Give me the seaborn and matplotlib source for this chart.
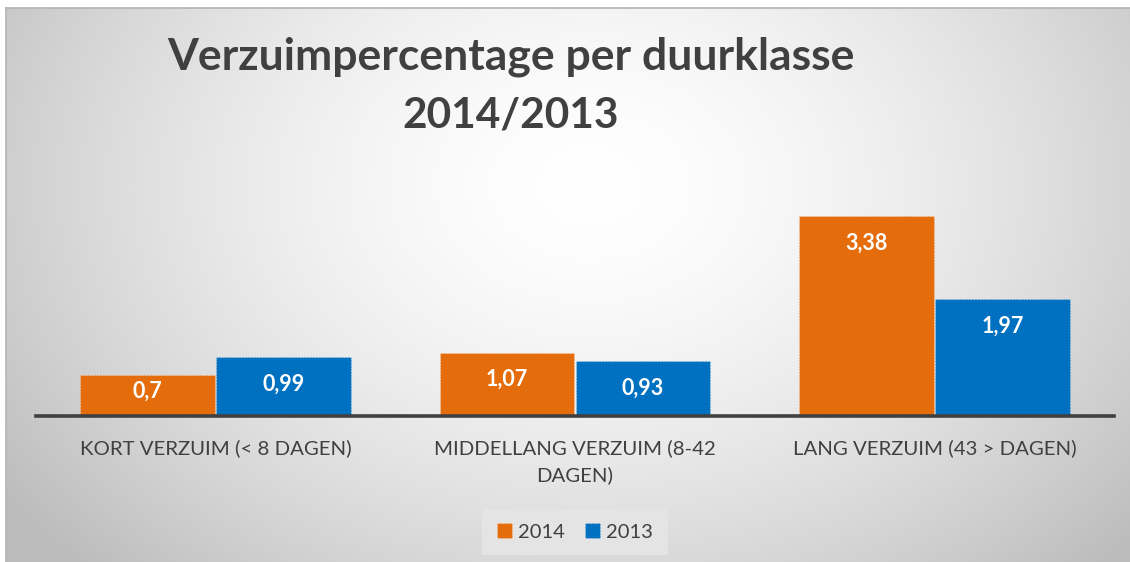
import numpy as np
import pandas as pd
import matplotlib
matplotlib.use("Agg")
import matplotlib.pyplot as plt
import seaborn as sns

categories = ["KORT VERZUIM (< 8 DAGEN)", "MIDDELLANG VERZUIM (8-42\nDAGEN)", "LANG VERZUIM (43 > DAGEN)"]
series_names = ["2014", "2013"]
values_2014 = [0.7, 1.07, 3.38]
values_2013 = [0.99, 0.93, 1.97]
value_labels_2014 = ["0,7", "1,07", "3,38"]
value_labels_2013 = ["0,99", "0,93", "1,97"]
title_lines = ["Verzuimpercentage per duurklasse", "2014/2013"]

colors = {"2014": "#E46C0A", "2013": "#0070C0"}
text_color = "#404040"

df = pd.DataFrame({
    "cat": categories * 2,
    "jaar": ["2014"] * 3 + ["2013"] * 3,
    "waarde": values_2014 + values_2013,
})

sns.set_theme(style="white")
plt.rcParams["font.family"] = ["Lato", "DejaVu Sans"]

W, H = 1130, 562
fig = plt.figure(figsize=(W / 100, H / 100), dpi=100)
fig.patch.set_facecolor("white")

# background gradient panel
bg = fig.add_axes([6 / W, 0, (W - 6) / W, (H - 8) / H], zorder=0)
ny, nx = 280, 560
yy, xx = np.mgrid[0:1:ny * 1j, 0:1:nx * 1j]
d = np.sqrt(((xx - 0.52) / 0.62) ** 2 + ((yy - 0.32) / 0.95) ** 2)
v = 1.0 - 0.25 * np.clip(d, 0, 1.4) ** 1.6
v = np.clip(v, 0.74, 1.0)
bg.imshow(np.dstack([v, v, v]), aspect="auto", extent=[0, 1, 1, 0], interpolation="bicubic")
bg.set_xticks([]); bg.set_yticks([])
for s in ["right", "bottom"]:
    bg.spines[s].set_visible(False)
for s in ["top", "left"]:
    bg.spines[s].set_color("#b4b4b4")
    bg.spines[s].set_linewidth(1.2)

ax = fig.add_axes([36 / W, 146 / H, 1078 / W, 266.4 / H], zorder=2)
ax.patch.set_alpha(0)
sns.barplot(data=df, x="cat", y="waarde", hue="jaar", hue_order=series_names,
            palette=colors, width=0.757, gap=0.012, ax=ax, saturation=1,
            edgecolor=(1, 1, 1, 0.45), linewidth=0.8, linestyle=":")
ax.set_ylim(0, 4.5)
ax.set_xlim(-0.5, 2.5)
ax.set_xlabel(""); ax.set_ylabel("")
ax.set_yticks([])
for s in ["top", "right", "left"]:
    ax.spines[s].set_visible(False)
ax.spines["bottom"].set_color(text_color)
ax.spines["bottom"].set_linewidth(2.6)
ax.tick_params(axis="x", length=0, pad=17, labelsize=14.7, labelcolor=text_color)
for lbl in ax.get_xticklabels():
    lbl.set_linespacing(1.6)

# value labels inside bars (inside end, kept clear of the baseline on short bars)
px_per_unit = (266.4) / 4.5
for container, labs in zip(ax.containers, [value_labels_2014, value_labels_2013]):
    for patch, lab in zip(container.patches, labs):
        h_px = patch.get_height() * px_per_unit
        off_px = min(27.0, h_px - 25.0)
        ax.annotate(lab, xy=(patch.get_x() + patch.get_width() / 2, patch.get_height()),
                    xytext=(0, -off_px * 0.72), textcoords="offset points",
                    ha="center", va="center", color="white", fontsize=15.5,
                    fontweight="bold")

handles, labels = ax.get_legend_handles_labels()
ax.get_legend().remove()
leg = fig.legend(handles, labels, loc="center", bbox_to_anchor=(575 / W, 1 - 532 / H),
                 ncol=2, frameon=True, fancybox=False, facecolor="#e4e4e4", edgecolor="none",
                 fontsize=14.5, handlelength=0.75, handleheight=0.75, handletextpad=0.3,
                 columnspacing=1.0, borderpad=0.72, framealpha=1)
for t in leg.get_texts():
    t.set_color(text_color)
leg.set_zorder(3)

fig.text(511 / W, 1 - 57 / H, title_lines[0], ha="center", va="center",
         fontsize=32, fontweight="bold", color=text_color, zorder=3)
fig.text(511 / W, 1 - 115 / H, title_lines[1], ha="center", va="center",
         fontsize=30.5, fontweight="bold", color=text_color, zorder=3)

fig.savefig("out.png", dpi=100)
